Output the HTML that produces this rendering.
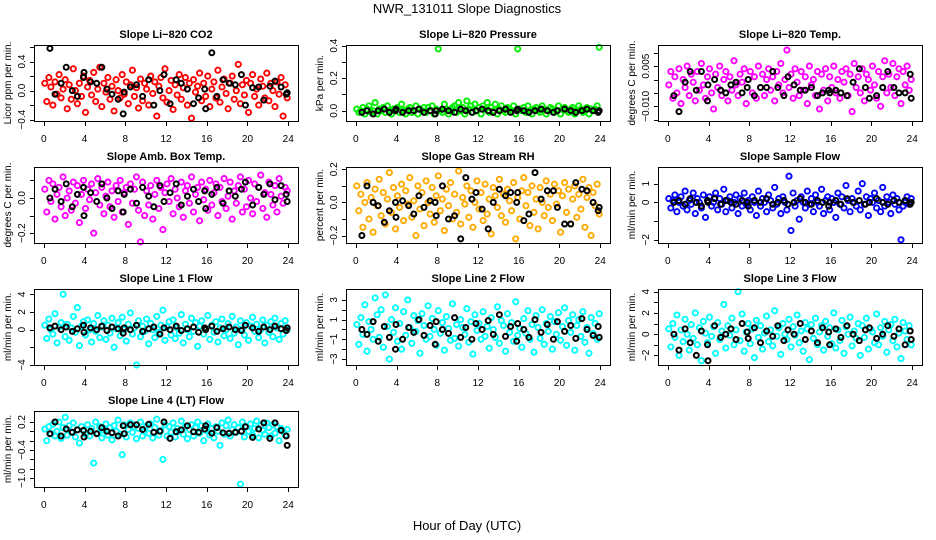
<!DOCTYPE html>
<html><head><meta charset="utf-8"><title>NWR_131011 Slope Diagnostics</title>
<style>
html,body{margin:0;padding:0;background:#fff;}
svg{display:block;font-family:"Liberation Sans",Arial,sans-serif;}
</style></head>
<body>
<svg id="chart" width="936" height="540" viewBox="0 0 936 540" xmlns="http://www.w3.org/2000/svg">
<rect x="0" y="0" width="936" height="540" fill="#fff"/>
<text x="467" y="13" text-anchor="middle" font-size="13">NWR_131011  Slope Diagnostics</text>
<text x="467" y="530" text-anchor="middle" font-size="13">Hour of Day (UTC)</text>
</svg>
<script>
const hours = [0.1,0.3,0.5,0.7,0.9,1.1,1.3,1.5,1.7,1.9,2.1,2.3,2.5,2.7,2.9,3.1,3.3,3.5,3.7,3.9,4.1,4.3,4.5,4.7,4.9,5.1,5.3,5.5,5.7,5.9,6.1,6.3,6.5,6.7,6.9,7.1,7.3,7.5,7.7,7.9,8.1,8.3,8.5,8.7,8.9,9.1,9.3,9.5,9.7,9.9,10.1,10.3,10.5,10.7,10.9,11.1,11.3,11.5,11.7,11.9,12.1,12.3,12.5,12.7,12.9,13.1,13.3,13.5,13.7,13.9,14.1,14.3,14.5,14.7,14.9,15.1,15.3,15.5,15.7,15.9,16.1,16.3,16.5,16.7,16.9,17.1,17.3,17.5,17.7,17.9,18.1,18.3,18.5,18.7,18.9,19.1,19.3,19.5,19.7,19.9,20.1,20.3,20.5,20.7,20.9,21.1,21.3,21.5,21.7,21.9,22.1,22.3,22.5,22.7,22.9,23.1,23.3,23.5,23.7,23.9];
const blackHours = [0.6,1.1,1.7,2.2,2.8,3.3,3.9,3.95,4.6,5.2,5.7,6.2,6.7,7.3,7.8,7.9,8.5,9.1,9.7,10.3,10.8,11.4,11.8,12.4,13.0,13.5,14.1,14.7,15.2,15.8,15.9,16.5,17.0,17.6,18.2,18.8,19.4,19.8,20.5,21.1,21.6,22.2,22.7,23.3,23.8,23.9];
const xTicks = [0,4,8,12,16,20,24];

const co2 = [0.1,-0.15,0.18,0.05,-0.2,0.12,-0.05,0.22,-0.1,0.02,0.15,-0.25,0.08,-0.12,0.3,0.0,-0.18,0.1,-0.08,0.2,-0.3,0.05,0.14,-0.06,0.25,-0.15,0.02,0.32,-0.22,0.1,-0.02,0.18,-0.12,0.06,-0.28,0.15,0.0,-0.1,0.22,-0.05,0.12,-0.18,0.08,0.28,-0.08,0.04,-0.24,0.16,-0.14,0.1,0.02,-0.2,0.2,-0.04,0.12,-0.35,0.06,0.18,-0.1,0.3,-0.16,0.0,0.14,-0.26,0.08,-0.06,0.22,-0.12,0.04,0.18,-0.2,0.1,-0.38,0.15,-0.02,0.06,0.24,-0.14,0.1,-0.08,0.2,-0.22,0.02,0.12,-0.1,0.28,-0.16,0.05,0.16,-0.04,-0.25,0.1,0.2,-0.12,0.0,0.36,-0.18,0.08,-0.06,0.14,-0.3,0.1,0.22,-0.08,0.02,-0.2,0.16,0.06,-0.1,0.24,-0.14,0.1,0.0,-0.22,0.12,-0.05,0.18,-0.35,0.08,-0.1];
const co2Black = [0.58,-0.05,0.1,0.32,0.0,-0.08,0.18,0.25,0.12,0.1,0.32,0.02,-0.05,-0.12,-0.32,-0.02,0.05,0.08,-0.08,0.15,-0.2,0.0,0.22,-0.18,0.15,0.1,0.02,-0.18,-0.1,0.02,-0.25,0.52,-0.08,0.15,0.1,0.08,0.22,-0.2,0.04,0.05,-0.13,0.06,0.13,0.05,-0.05,-0.03];
const pressure = [0.01,-0.01,0.0,0.02,-0.02,0.01,0.03,-0.01,0.0,0.05,-0.02,0.01,0.0,0.02,-0.01,0.03,0.0,-0.02,0.01,0.0,0.02,-0.01,0.04,0.0,-0.02,0.01,0.02,-0.01,0.0,0.03,-0.02,0.01,0.0,0.02,-0.01,0.02,0.0,0.03,-0.02,0.01,0.38,0.0,-0.01,0.04,0.01,-0.02,0.0,0.02,0.03,-0.01,0.05,0.0,0.02,-0.02,0.06,0.01,0.03,-0.01,0.04,0.0,0.02,-0.02,0.03,0.01,0.05,-0.01,0.02,0.0,0.04,-0.02,0.01,0.03,0.0,-0.01,0.02,0.01,0.0,0.03,-0.02,0.38,0.01,0.0,0.02,-0.01,0.03,0.0,-0.02,0.01,0.02,0.0,-0.01,0.03,0.01,-0.02,0.0,0.02,0.01,-0.01,0.0,0.03,-0.02,0.01,0.02,0.0,-0.01,0.01,0.02,-0.02,0.0,0.03,0.01,-0.01,0.0,0.02,-0.02,0.01,0.0,0.01,0.03,0.39];
const pressureBlack = [-0.01,0.0,-0.02,0.0,0.01,-0.01,0.0,0.01,-0.01,0.0,0.0,0.01,-0.01,0.0,-0.02,0.0,0.01,0.0,-0.01,0.01,0.0,-0.01,0.0,0.01,0.0,-0.01,0.0,0.01,-0.01,0.0,0.01,0.0,-0.01,0.0,0.01,0.0,-0.01,0.0,0.01,0.0,-0.01,0.0,0.01,0.0,-0.01,0.0];
const liTemp = [-0.002,0.003,-0.007,0.001,-0.005,0.004,-0.009,0.0,-0.003,0.005,-0.006,0.002,-0.001,-0.008,0.003,-0.004,0.006,-0.002,-0.007,0.001,0.004,-0.005,-0.011,0.002,-0.003,0.005,-0.006,0.0,0.003,-0.008,0.001,-0.004,0.007,-0.002,-0.006,0.002,-0.001,0.004,-0.009,0.0,0.003,-0.005,0.001,-0.007,0.005,-0.003,0.002,-0.006,0.0,0.004,-0.004,0.001,-0.008,0.003,-0.002,0.006,-0.005,0.0,0.011,-0.003,0.002,-0.007,0.004,-0.001,-0.006,0.003,-0.004,0.001,-0.009,0.005,-0.002,0.0,-0.006,0.003,-0.011,0.002,-0.004,0.004,-0.008,0.001,-0.003,0.005,-0.005,0.0,-0.007,0.003,-0.001,0.004,-0.006,0.002,-0.012,0.006,-0.003,0.001,-0.005,0.004,-0.008,0.002,0.0,-0.004,0.005,-0.002,-0.007,0.003,-0.010,0.001,0.007,-0.005,0.002,-0.003,0.006,-0.006,0.001,0.004,-0.009,0.003,-0.002,0.005,-0.004,0.0];
const liTempBlack = [-0.006,-0.012,-0.001,0.003,-0.004,0.003,-0.008,-0.002,0.0,-0.004,-0.005,-0.002,-0.001,-0.005,-0.003,0.0,-0.006,-0.003,-0.003,0.003,-0.003,-0.006,0.001,-0.002,-0.004,-0.004,-0.003,-0.006,-0.005,-0.004,-0.005,-0.004,-0.005,-0.006,-0.001,0.004,-0.003,-0.007,-0.006,-0.003,0.003,-0.003,-0.005,-0.005,0.002,-0.007];
const ambTemp = [0.05,-0.08,0.1,-0.02,0.08,-0.12,0.02,0.06,-0.05,0.12,-0.1,0.0,0.04,-0.07,0.09,-0.03,0.07,-0.14,0.02,0.1,-0.06,0.05,-0.01,0.08,-0.2,0.03,0.11,-0.04,0.06,-0.09,0.01,0.09,-0.05,0.04,-0.11,0.07,-0.02,0.1,-0.08,0.03,0.06,-0.15,0.08,-0.03,0.05,0.12,-0.07,-0.25,0.09,-0.1,0.04,-0.04,0.07,-0.12,0.02,0.1,-0.06,0.06,-0.18,0.03,0.08,-0.02,0.11,-0.09,0.05,0.0,-0.05,0.09,-0.11,0.04,0.07,-0.03,0.12,-0.08,0.02,0.06,-0.13,0.09,-0.01,0.05,-0.07,0.1,-0.04,0.03,0.08,-0.1,0.06,-0.02,0.11,-0.06,0.01,0.09,-0.12,0.04,-0.03,0.07,0.12,-0.08,0.05,-0.05,0.1,0.0,-0.09,0.08,-0.02,0.06,0.13,-0.06,0.03,-0.11,0.09,0.02,-0.04,0.07,-0.08,0.11,0.01,-0.03,0.06,0.04];
const ambTempBlack = [0.0,0.05,-0.02,0.08,-0.05,0.02,0.06,-0.1,0.03,-0.02,0.08,0.0,-0.06,0.04,-0.08,0.02,0.05,-0.03,0.06,0.01,-0.05,0.07,-0.02,0.03,0.08,-0.04,0.01,0.05,-0.02,0.04,-0.06,0.02,0.06,-0.03,0.04,0.01,0.05,0.09,-0.04,0.06,0.02,0.08,-0.01,0.07,0.02,-0.02];
const rh = [0.1,-0.05,0.05,-0.15,0.0,0.12,-0.1,0.03,-0.18,0.08,-0.02,0.14,-0.08,0.06,-0.13,0.02,0.18,-0.06,0.09,-0.16,0.04,-0.03,0.11,-0.11,0.07,-0.01,0.15,-0.09,0.01,-0.2,0.1,-0.04,0.06,-0.14,0.13,0.0,-0.07,0.09,-0.12,0.04,0.16,-0.05,0.02,-0.17,0.08,-0.02,0.12,-0.1,0.05,-0.06,0.19,-0.13,0.03,-0.01,0.1,-0.09,0.07,-0.15,0.0,0.13,-0.04,0.06,-0.11,0.11,-0.07,0.02,-0.19,0.09,0.04,-0.03,0.14,-0.08,0.05,-0.12,0.08,0.01,-0.05,0.12,-0.22,0.03,-0.1,0.07,0.15,-0.02,0.06,-0.14,0.1,-0.06,0.02,-0.16,0.09,0.0,-0.08,0.13,-0.03,0.05,-0.11,0.11,-0.01,0.07,-0.18,0.04,0.12,-0.06,0.08,-0.13,0.02,0.1,-0.09,0.05,-0.04,0.14,-0.15,0.03,0.09,-0.2,0.06,-0.02,0.11,-0.07];
const rhBlack = [-0.2,0.1,0.0,-0.02,-0.12,-0.05,0.0,-0.09,0.01,-0.02,-0.07,0.04,-0.03,0.01,0.0,-0.08,0.1,-0.1,-0.08,-0.22,0.15,0.02,0.06,-0.04,-0.16,0.0,0.08,0.04,0.06,0.0,0.06,-0.11,-0.07,0.18,0.02,0.07,0.07,-0.03,-0.13,-0.13,0.12,0.08,0.07,0.0,-0.05,-0.03];
const sampleFlow = [0.2,-0.3,0.1,0.4,-0.5,0.0,0.3,-0.2,0.6,-0.4,0.1,-0.1,0.5,-0.6,0.2,0.0,-0.3,0.4,-0.8,0.1,0.3,-0.2,0.0,0.5,-0.4,0.2,-0.1,0.7,-0.5,0.1,0.3,-0.3,0.0,0.4,-0.6,0.2,-0.2,0.5,-0.1,0.1,-0.4,0.3,0.0,-0.7,0.6,-0.2,0.2,0.0,-0.5,0.4,0.1,-0.3,0.8,-0.1,0.2,-0.6,0.3,0.0,-0.4,1.4,-1.5,0.5,-0.2,0.1,-0.9,0.3,0.0,-0.3,0.6,-0.1,0.2,-0.5,0.4,0.0,-0.2,0.7,-0.6,0.1,0.3,-0.4,0.2,0.0,-0.8,0.5,-0.1,0.3,-0.3,0.9,0.1,-0.5,0.2,0.0,-0.2,0.6,-0.4,1.0,-0.1,0.3,-0.7,0.2,0.0,0.5,-0.3,0.1,-0.5,0.8,-0.2,0.3,0.0,-0.6,0.4,-0.1,0.2,-0.4,-2.0,-0.2,0.0,0.3,-0.1,0.2];
const sampleFlowBlack = [0.0,0.1,-0.1,0.2,0.0,-0.2,0.1,0.0,0.2,-0.1,0.1,0.0,-0.1,0.1,0.0,-0.2,0.1,0.0,0.2,-0.1,0.0,0.1,-0.1,0.0,0.2,0.0,-0.1,0.1,0.0,-0.2,0.0,0.1,-0.1,0.2,0.0,0.1,-0.1,0.0,0.2,0.0,-0.1,0.1,0.0,0.1,-0.1,0.0];
const line1 = [0.5,-1.0,1.2,0.0,-0.5,1.8,-1.5,0.3,0.8,4.0,-0.8,0.6,-1.2,0.2,1.5,-0.3,2.5,-1.8,0.4,0.9,-0.6,1.1,0.0,-1.4,0.7,-0.2,1.6,-0.9,0.3,1.0,-1.1,0.5,-0.4,1.3,-2.0,0.1,0.8,-0.7,1.4,0.0,-1.3,0.6,1.9,-0.5,0.2,-4.0,1.0,-0.8,0.4,-0.2,1.2,-1.6,0.7,0.0,-0.9,1.5,-0.3,0.5,2.2,-1.2,0.3,0.9,-0.6,1.1,-1.0,0.2,-0.4,1.7,-1.5,0.6,0.0,-0.8,1.3,-0.2,0.8,-1.9,0.4,1.0,-0.5,0.1,1.6,-1.1,0.5,-0.3,0.9,-1.4,0.2,1.2,-0.7,0.0,0.7,-1.0,1.5,-0.4,0.3,-1.7,1.0,0.1,-0.6,0.8,-1.2,0.4,1.4,-0.2,0.6,-0.9,0.0,1.1,-1.5,0.5,-0.3,0.9,-0.8,1.3,0.2,-1.1,0.7,-0.5,1.0,0.0];
const line1Black = [0.2,0.4,0.0,0.3,-0.2,0.1,0.5,-0.3,0.2,0.0,0.4,-0.1,0.3,0.1,-0.4,0.2,0.0,0.5,-0.2,0.1,0.3,-0.5,0.2,0.0,0.4,-0.1,0.1,0.3,-0.3,0.2,0.0,0.4,-0.2,0.1,0.3,0.0,-0.1,0.5,0.2,-0.2,0.3,0.0,0.4,0.1,-0.1,0.2];
const line2 = [0.5,-1.5,1.2,-0.5,2.5,-2.2,0.8,0.0,-1.0,3.2,1.5,-0.8,2.0,-1.8,3.5,0.3,-3.0,1.0,-0.3,2.2,-1.2,0.6,-2.0,1.8,-0.6,3.0,0.2,-1.4,1.4,-0.2,0.9,-2.4,1.6,0.4,-1.0,2.4,-0.7,1.1,0.0,-1.6,1.9,-0.4,0.7,-2.1,1.3,0.1,-1.1,2.6,-0.9,0.5,-1.7,1.0,0.2,-0.5,2.1,-1.3,0.8,-2.5,1.5,-0.1,0.6,-1.0,1.8,-0.7,0.3,-1.9,1.2,0.0,-0.8,2.3,-1.4,0.9,0.4,-2.2,1.6,-0.3,0.7,-1.2,2.8,-0.6,0.1,-1.8,1.1,-0.4,1.9,-1.0,0.5,-2.3,1.4,0.2,-0.9,2.0,-1.5,0.6,-0.2,1.3,-2.0,0.8,-0.5,1.7,-1.1,0.3,2.2,-1.6,0.9,-0.3,1.5,-2.1,0.4,1.0,-0.7,1.8,-1.3,0.2,-2.4,1.2,-0.4,0.6,-1.0,1.6];
const line2Black = [0.0,-0.5,0.8,-1.2,0.3,-0.8,-2.0,0.5,-1.0,0.2,-0.3,1.0,-0.6,0.4,-1.5,0.8,0.0,-0.4,1.2,-0.8,0.2,-1.0,0.6,0.0,0.9,-0.5,1.5,-0.7,0.3,-1.2,0.6,0.0,-0.8,1.0,-0.3,0.5,-1.0,0.8,-0.2,0.4,-0.9,1.1,0.0,-0.6,0.3,-0.8];
const line3 = [0.5,-1.2,1.0,-0.3,1.8,-2.0,0.4,-0.7,1.4,0.0,-1.5,0.9,-0.4,2.0,-1.0,0.6,-2.5,1.2,0.1,-0.8,1.6,-0.2,0.7,-1.8,1.1,-0.5,0.3,2.8,-1.3,0.8,-0.1,1.5,-1.0,0.4,4.0,-0.6,1.9,-1.6,0.2,1.0,-0.9,0.5,-2.2,1.3,-0.3,0.8,-1.4,0.1,1.7,-0.7,0.4,-1.1,2.2,-0.2,0.6,-1.9,1.0,0.0,-0.5,1.4,-1.2,0.7,-0.1,1.8,-0.8,0.3,-1.6,1.1,0.5,-2.4,0.9,-0.4,1.5,-1.0,0.2,0.8,-1.5,1.2,-0.2,0.6,-0.9,2.0,-1.3,0.4,-0.6,1.3,-1.8,0.7,0.0,1.6,-1.1,0.3,-0.4,1.0,-2.0,0.8,-0.3,1.5,-1.4,0.5,0.2,-0.8,1.9,-1.0,0.6,-0.2,1.2,-1.7,0.4,0.9,-0.6,1.4,-1.2,0.1,-2.3,1.1,0.3,-0.5,0.8,-1.0];
const line3Black = [0.0,-1.5,0.5,-0.8,-2.0,0.3,-1.0,-2.5,0.8,-0.3,0.0,0.5,-0.5,1.0,0.2,-0.4,0.6,-0.8,0.3,-0.2,0.8,-0.6,0.4,0.0,1.0,-0.5,0.3,-0.8,0.6,0.2,-1.0,0.5,-0.3,0.8,0.0,-0.6,0.4,0.6,-0.4,0.0,0.8,-0.2,0.5,-1.0,0.3,-0.5];
const line4 = [0.05,-0.2,0.1,-0.05,0.15,-0.1,0.0,0.2,-0.15,0.08,0.3,-0.08,0.12,-0.02,0.18,-0.12,0.04,-0.25,0.1,0.0,-0.06,0.14,-0.1,0.06,-0.68,0.2,-0.04,0.1,-0.14,0.02,0.16,-0.08,0.08,-0.18,0.12,0.0,0.24,-0.06,-0.5,0.14,-0.12,0.04,0.18,-0.02,0.1,-0.16,0.06,0.2,-0.1,0.0,0.12,-0.04,0.16,-0.14,0.08,0.26,-0.08,0.02,-0.6,0.14,-0.1,0.1,-0.02,0.18,-0.12,0.06,0.0,0.22,-0.06,0.1,-0.16,0.04,0.14,-0.1,0.08,0.2,-0.04,0.12,-0.2,0.02,0.16,-0.08,0.06,-0.14,0.1,0.0,-0.3,0.18,-0.06,0.12,0.24,-0.1,0.04,0.14,-0.02,0.08,-1.13,0.2,-0.12,0.1,0.0,0.16,-0.08,0.06,0.22,-0.14,0.12,0.02,-0.06,0.18,0.08,-0.1,0.14,-0.04,0.1,-0.2,0.06,0.0,-0.08,0.04];
const line4Black = [-0.05,0.2,-0.1,0.05,-0.02,0.03,0.02,-0.12,0.0,-0.05,0.08,0.0,-0.03,-0.1,0.12,-0.05,0.14,0.14,0.04,0.15,-0.02,0.0,0.2,-0.15,-0.01,0.03,0.12,-0.01,-0.02,0.05,0.12,-0.04,0.08,-0.03,-0.04,-0.02,0.0,0.1,-0.13,0.05,0.18,-0.15,0.18,0.02,-0.1,-0.3];

const panels = [
 {name:'co2',title:'Slope Li\u2212820 CO2',ylab:'Licor ppm per min.',col:0,row:0,top:0.627,bot:-0.418,ticks:[-0.4,-0.2,0,0.2,0.4,0.6],labels:[[-0.4,'\u22120.4'],[0,'0.0'],[0.4,'0.4']],color:'#ff0000',y:co2,yb:co2Black},
 {name:'pressure',title:'Slope Li\u2212820 Pressure',ylab:'kPa per min.',col:1,row:0,top:0.404,bot:-0.063,ticks:[0,0.1,0.2,0.3,0.4],labels:[[0,'0.0'],[0.2,'0.2'],[0.4,'0.4']],color:'#00ee00',y:pressure,yb:pressureBlack},
 {name:'li-temp',title:'Slope Li\u2212820 Temp.',ylab:'degrees C per min.',col:2,row:0,top:0.0129,bot:-0.0155,ticks:[-0.015,-0.01,-0.005,0,0.005,0.01],labels:[[-0.01,'\u22120.010'],[0.005,'0.005']],color:'#ff00ff',y:liTemp,yb:liTempBlack},
 {name:'amb-temp',title:'Slope Amb. Box Temp.',ylab:'degrees C per min.',col:0,row:1,top:0.176,bot:-0.256,ticks:[-0.2,-0.1,0,0.1],labels:[[-0.2,'\u22120.2'],[0,'0.0']],color:'#ff00ff',y:ambTemp,yb:ambTempBlack},
 {name:'rh',title:'Slope Gas Stream RH',ylab:'percent per min.',col:1,row:1,top:0.214,bot:-0.245,ticks:[-0.2,-0.1,0,0.1,0.2],labels:[[-0.2,'\u22120.2'],[0,'0.0'],[0.2,'0.2']],color:'#ffaa00',y:rh,yb:rhBlack},
 {name:'sample-flow',title:'Slope Sample Flow',ylab:'ml/min per min.',col:2,row:1,top:1.89,bot:-2.17,ticks:[-2,-1,0,1],labels:[[-2,'\u22122'],[0,'0'],[1,'1']],color:'#0000ff',y:sampleFlow,yb:sampleFlowBlack},
 {name:'line1',title:'Slope Line 1 Flow',ylab:'ml/min per min.',col:0,row:2,top:4.6,bot:-4.0,ticks:[-4,-2,0,2,4],labels:[[-4,'\u22124'],[0,'0'],[2,'2'],[4,'4']],color:'#00ffff',y:line1,yb:line1Black},
 {name:'line2',title:'Slope Line 2 Flow',ylab:'ml/min per min.',col:1,row:2,top:4.1,bot:-3.6,ticks:[-3,-2,-1,0,1,2,3],labels:[[-3,'\u22123'],[-1,'\u22121'],[1,'1'],[3,'3']],color:'#00ffff',y:line2,yb:line2Black},
 {name:'line3',title:'Slope Line 3 Flow',ylab:'ml/min per min.',col:2,row:2,top:4.25,bot:-2.9,ticks:[-2,-1,0,1,2,3,4],labels:[[-2,'\u22122'],[0,'0'],[2,'2'],[4,'4']],color:'#00ffff',y:line3,yb:line3Black},
 {name:'line4',title:'Slope Line 4 (LT) Flow',ylab:'ml/min per min.',col:0,row:3,top:0.435,bot:-1.19,ticks:[-1.0,-0.8,-0.6,-0.4,-0.2,0,0.2],labels:[[-1.0,'\u22121.0'],[-0.4,'\u22120.4'],[0.2,'0.2']],color:'#00ffff',y:line4,yb:line4Black}
];

const NS='http://www.w3.org/2000/svg';
const svg=document.getElementById('chart');
function mk(tag,attrs,parent){const e=document.createElementNS(NS,tag);for(const k in attrs)e.setAttribute(k,attrs[k]);parent.appendChild(e);return e;}
const rowTops=[45,167,289,411];
const BH=76;
panels.forEach(p=>{
  const L=p.col*312+34, R=L+264, T=rowTops[p.row], B=T+BH;
  const xs=h=>L+(h+0.96)/25.92*264;
  const ys=v=>T+(p.top-v)/(p.top-p.bot)*BH;
  const g=mk('g',{},svg);
  
  
  const pts=mk('g',{fill:'none','stroke-width':1.9},g);
  
  
  const n=Math.min(hours.length,p.y.length);
  for(let i=0;i<n;i++){
    const c=mk('circle',{cx:xs(hours[i]).toFixed(1),cy:ys(p.y[i]).toFixed(1),r:2.6,stroke:p.color},pts);
    
    
  }
  const nb=Math.min(blackHours.length,p.yb.length);
  for(let i=0;i<nb;i++){
    const c=mk('circle',{cx:xs(blackHours[i]).toFixed(1),cy:ys(p.yb[i]).toFixed(1),r:2.5,stroke:'#000','stroke-width':2},pts);
    
    
  }
  const box=mk('rect',{x:L+0.5,y:T+0.5,width:264,height:BH,fill:'none',stroke:'#000','stroke-width':1},g);
  
  
  const t=mk('text',{x:(L+R)/2,y:T-7,'text-anchor':'middle','font-size':11,'font-weight':'bold'},g);
  t.textContent=p.title;
  
  
  const xa=mk('g',{stroke:'#000','stroke-width':1},g);
  
  
  mk('line',{x1:xs(xTicks[0]),x2:xs(xTicks[xTicks.length-1]),y1:B+0.5,y2:B+0.5},xa);
  xTicks.forEach(v=>{
    mk('line',{x1:Math.round(xs(v))+0.5,x2:Math.round(xs(v))+0.5,y1:B,y2:B+5},xa);
    const tl=mk('text',{x:xs(v),y:B+21,'text-anchor':'middle','font-size':10,stroke:'none',fill:'#000'},g);
    tl.textContent=String(v);
    
    
  });
  const ya=mk('g',{stroke:'#000','stroke-width':1},g);
  
  
  const tk=p.ticks;
  mk('line',{x1:L+0.5,x2:L+0.5,y1:ys(tk[0]),y2:ys(tk[tk.length-1])},ya);
  tk.forEach(v=>{mk('line',{x1:L-4,x2:L,y1:Math.round(ys(v))+0.5,y2:Math.round(ys(v))+0.5},ya);});
  p.labels.forEach(([v,s])=>{
    const yy=ys(v), xx=L-9;
    const tl=mk('text',{x:xx,y:yy,'text-anchor':'middle','font-size':10,transform:`rotate(-90 ${xx} ${yy})`},g);
    tl.textContent=s;
    
    
  });
  const yx=L-23, yy=(T+B)/2;
  const yl=mk('text',{x:yx,y:yy,'text-anchor':'middle','font-size':10,transform:`rotate(-90 ${yx} ${yy})`},g);
  yl.textContent=p.ylab;
  
  
});
</script>
</body></html>
